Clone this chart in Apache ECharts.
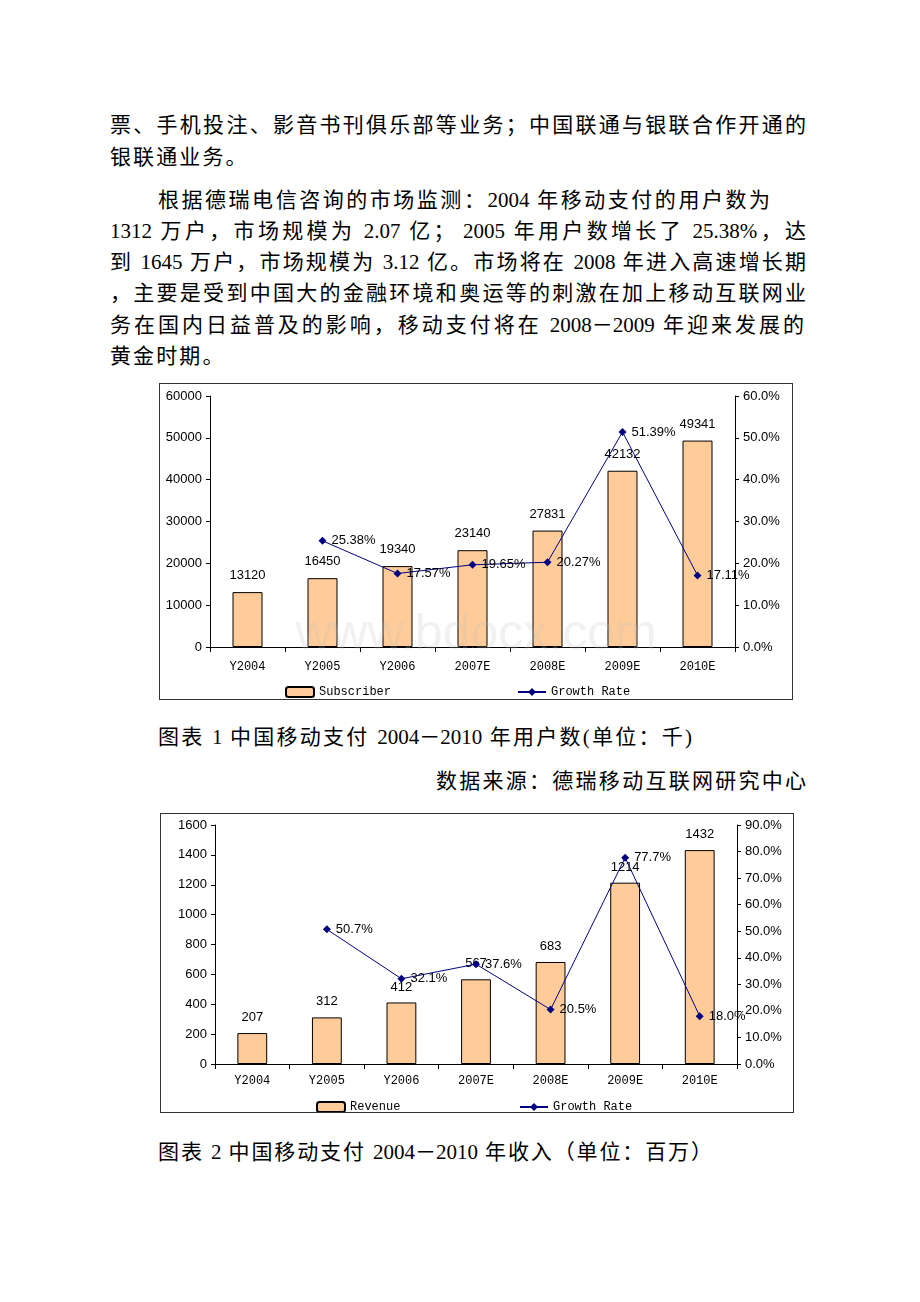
<!DOCTYPE html>
<html>
<head>
<meta charset="utf-8">
<script src="https://cdn.jsdelivr.net/npm/echarts@6/dist/echarts.min.js"></script>
<style>
  html, body { margin: 0; padding: 0; background: #fff; }
  body { width: 920px; height: 1302px; position: relative; overflow: hidden;
         font-family: 'Liberation Serif', 'Noto Sans CJK SC', serif; color: #000; }
  .ln { position: absolute; height: 30px; line-height: 30px; font-size: 21px; white-space: nowrap; }
  .j { text-align: justify; text-align-last: justify; }
  .sp { letter-spacing: 2.1px; }
  .box { position: absolute; border: 1px solid #333; background: #fff; }
</style>
</head>
<body>
<div class="ln j" style="left:110px;top:110px;width:696px;">票、手机投注、影音书刊俱乐部等业务；中国联通与银联合作开通的</div>
<div class="ln sp" style="left:110px;top:142px;">银联通业务。</div>
<div class="ln j" style="left:158px;top:185px;width:612px;">根据德瑞电信咨询的市场监测：2004 年移动支付的用户数为</div>
<div class="ln j" style="left:110px;top:216px;width:696px;">1312 万户，市场规模为 2.07 亿； 2005 年用户数增长了 25.38%，达</div>
<div class="ln j" style="left:110px;top:247px;width:696px;">到 1645 万户，市场规模为 3.12 亿。市场将在 2008 年进入高速增长期</div>
<div class="ln j" style="left:110px;top:278px;width:696px;">，主要是受到中国大的金融环境和奥运等的刺激在加上移动互联网业</div>
<div class="ln j" style="left:110px;top:310px;width:694px;">务在国内日益普及的影响，移动支付将在 2008－2009 年迎来发展的</div>
<div class="ln sp" style="left:110px;top:341px;">黄金时期。</div>

<div id="c1" class="box" style="left:159px;top:383px;width:632px;height:315px;"></div>

<div class="ln j" style="left:158px;top:722px;width:534px;">图表 1 中国移动支付 2004－2010 年用户数(单位：千)</div>
<div class="ln j" style="left:436px;top:766px;width:370px;">数据来源：德瑞移动互联网研究中心</div>

<div id="c2" class="box" style="left:160px;top:813px;width:632px;height:298px;"></div>

<div class="ln j" style="left:158px;top:1137px;width:554px;">图表 2 中国移动支付 2004－2010 年收入（单位：百万）</div>

<script>
// ---- data ----
var categories = ['Y2004', 'Y2005', 'Y2006', '2007E', '2008E', '2009E', '2010E'];
var subscribers = [13120, 16450, 19340, 23140, 27831, 42132, 49341];
var subscriberGrowth = [null, 25.38, 17.57, 19.65, 20.27, 51.39, 17.11];
var revenue = [207, 312, 412, 567, 683, 1214, 1432];
var revenueGrowth = [null, 50.7, 32.1, 37.6, 20.5, 77.7, 18.0];

var numFont = 'Liberation Sans';
var monoFont = 'Liberation Mono';

function makeOption(cfg) {
  var legendText = { fontFamily: monoFont, fontSize: 12, color: '#000' };
  return {
    animation: false,
    textStyle: { fontFamily: numFont, color: '#000' },
    grid: cfg.grid,
    graphic: cfg.graphic || [],
    legend: [
      { data: [cfg.barName], left: cfg.legendLeft[0], top: cfg.legendTop, padding: 0,
        itemWidth: 28, itemHeight: 10, itemGap: 0, textStyle: legendText },
      { data: [cfg.lineName], left: cfg.legendLeft[1], top: cfg.legendTop, padding: 0,
        itemWidth: 28, itemHeight: 10, itemGap: 0, textStyle: legendText }
    ],
    xAxis: {
      type: 'category', data: categories,
      axisLine: { lineStyle: { color: '#000', width: 1 } },
      axisTick: { show: true, alignWithLabel: false, length: 5, lineStyle: { color: '#000' } },
      axisLabel: { color: '#000', fontFamily: monoFont, fontSize: 12, margin: cfg.catMargin }
    },
    yAxis: [
      { type: 'value', min: 0, max: cfg.leftMax, interval: cfg.leftInterval,
        axisLine: { show: true, lineStyle: { color: '#000' } },
        axisTick: { show: true, length: 4, lineStyle: { color: '#000' } },
        splitLine: { show: false },
        axisLabel: { color: '#000', fontFamily: numFont, fontSize: 13, margin: 8,
          formatter: function (v) { return String(v); } } },
      { type: 'value', min: 0, max: cfg.rightMax, interval: 10, position: 'right',
        axisLine: { show: true, lineStyle: { color: '#000' } },
        axisTick: { show: true, length: 4, lineStyle: { color: '#000' } },
        splitLine: { show: false },
        axisLabel: { color: '#000', fontFamily: numFont, fontSize: 13, margin: 8,
          formatter: function (v) { return v.toFixed(1) + '%'; } } }
    ],
    series: [
      { name: cfg.barName, type: 'bar', data: cfg.barData, barWidth: '40%', yAxisIndex: 0,
        itemStyle: { color: '#FFCC99', borderColor: '#000', borderWidth: 1 },
        label: { show: true, position: 'top', distance: cfg.barLabelDist, color: '#000', fontFamily: numFont, fontSize: 13 } },
      { name: cfg.lineName, type: 'line', data: cfg.lineData, yAxisIndex: 1,
        symbol: 'diamond', symbolSize: 8, connectNulls: false,
        lineStyle: { color: '#000080', width: 1 },
        itemStyle: { color: '#000080' },
        label: { show: true, position: 'right', distance: 5, color: '#000', fontFamily: numFont, fontSize: 13,
          formatter: function (p) { return p.value == null ? '' : p.value.toFixed(cfg.decimals) + '%'; } },
        z: 3 }
    ]
  };
}

var c1 = echarts.init(document.getElementById('c1'));
c1.setOption(makeOption({
  grid: { left: 50, right: 57, top: 12, bottom: 52 },
  barName: 'Subscriber', lineName: 'Growth Rate',
  barData: subscribers, lineData: subscriberGrowth,
  leftMax: 60000, leftInterval: 10000, rightMax: 60,
  legendLeft: [125, 357], legendTop: 302, catMargin: 14, barLabelDist: 10, decimals: 2,
  graphic: [{ type: 'text', left: 'center', top: 226, z: 100, silent: true,
    style: { text: 'www.bdocx.com', fontSize: 50, fontFamily: numFont, fill: 'rgba(190,190,190,0.22)' } }]
}));

var c2 = echarts.init(document.getElementById('c2'));
c2.setOption(makeOption({
  grid: { left: 54, right: 56, top: 11, bottom: 48 },
  barName: 'Revenue', lineName: 'Growth Rate',
  barData: revenue, lineData: revenueGrowth,
  leftMax: 1600, leftInterval: 200, rightMax: 90,
  legendLeft: [155, 358], legendTop: 287, catMargin: 11, barLabelDist: 9, decimals: 1
}));
</script>
</body>
</html>
